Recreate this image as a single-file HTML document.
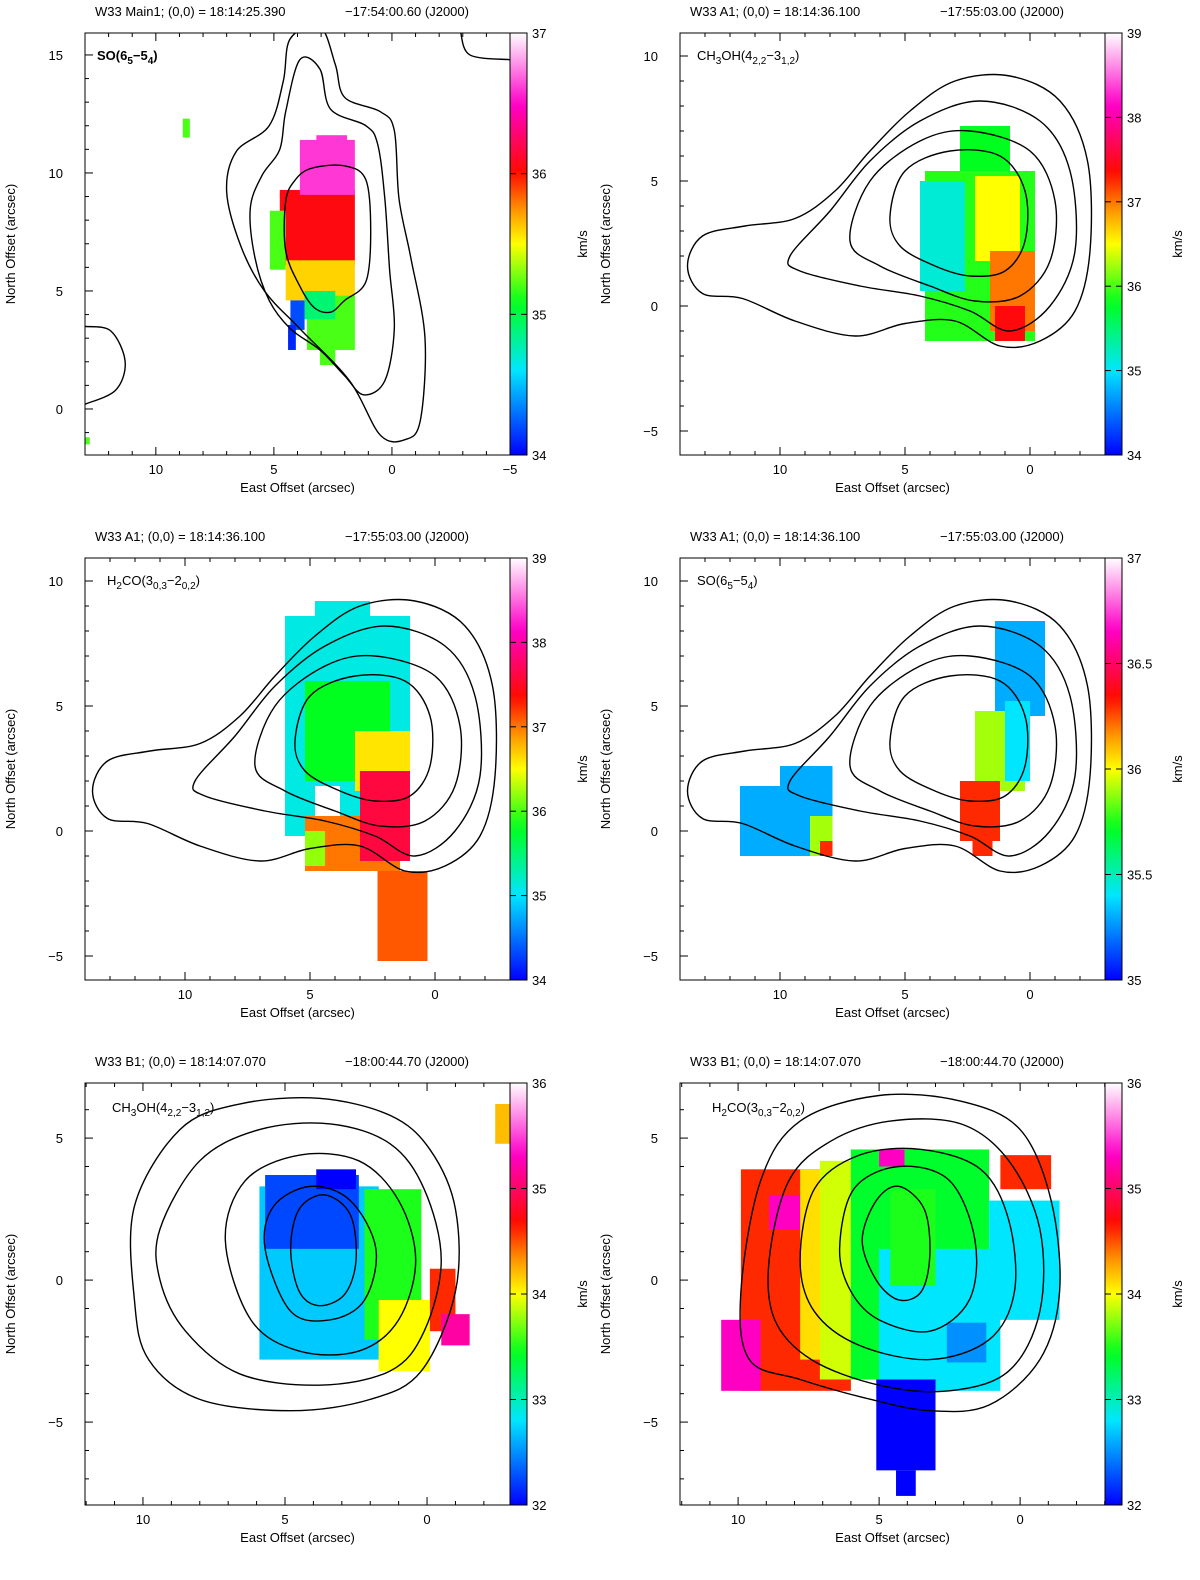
<!DOCTYPE html>
<html><head><meta charset="utf-8"><style>
html,body{margin:0;padding:0;background:#fff}
svg{display:block;font-family:"Liberation Sans",sans-serif}
</style></head><body>
<svg id="fig" width="1200" height="1580" viewBox="0 0 1200 1580" xmlns="http://www.w3.org/2000/svg"></svg>
<script>
// ---------- data (arcsec East offset, arcsec North offset, velocity km/s) ----------
const contoursMain1 = [
 [[4.3,15.7],[3.05,16.2],[2.4,14.6],[2.0,13.2],[0.5,12.6],[-0.1,11.8],[-0.3,8.9],[-0.8,6.4],[-1.4,3.0],[-1.2,-0.5],[-0.55,-1.3],[0.5,-1.1],[1.8,1.2],[3.9,3.4],[5.4,5.0],[6.4,6.9],[7.0,9.2],[6.6,10.9],[5.2,12.0],[4.6,13.9]],
 [[3.9,14.8],[3.05,14.4],[2.6,12.7],[1.1,12.0],[0.6,11.2],[0.3,8.9],[0.1,5.9],[-0.1,3.4],[0.3,1.2],[1.2,0.6],[2.0,1.4],[3.05,2.5],[4.3,3.4],[5.2,4.6],[5.8,6.4],[6.0,8.5],[5.5,9.9],[4.75,11.0],[4.5,12.6]],
 [[3.4,10.2],[2.0,10.3],[1.1,9.7],[0.9,7.5],[1.1,5.4],[2.0,4.6],[2.6,4.1],[3.3,4.3],[3.9,5.2],[4.5,6.7],[4.5,8.8],[4.1,9.7]]
];
const openMain1 = [[[13.0,3.5],[11.9,3.3],[11.3,2.0],[11.7,0.8],[13.0,0.2]],[[-2.9,16.0],[-3.3,15.0],[-5.0,14.8]]];
const contoursA1 = [
 [[13.7,1.6],[13.1,2.8],[11.4,3.2],[9.4,3.5],[7.8,4.6],[6.4,6.2],[4.8,7.8],[3.0,9.0],[0.8,9.2],[-1.2,8.2],[-2.3,5.8],[-2.4,2.2],[-1.8,-0.2],[-0.4,-1.4],[1.2,-1.6],[3.0,-0.6],[5.0,-0.7],[7.0,-1.2],[9.4,-0.6],[11.5,0.3],[13.1,0.5]],
 [[9.6,2.0],[8.0,3.8],[6.4,5.8],[4.4,7.4],[2.0,8.2],[-0.4,7.4],[-1.6,5.4],[-1.8,2.2],[-0.8,0.0],[0.8,-1.0],[2.4,-0.2],[4.4,0.4],[6.8,0.8],[9.2,1.4]],
 [[7.2,2.6],[6.4,5.0],[4.4,6.6],[2.4,7.0],[0,6.2],[-1.0,4.2],[-0.8,1.8],[0.4,0.4],[2.2,0.2],[4.0,0.8],[6.0,1.6]],
 [[5.6,3.6],[5.0,5.4],[3.2,6.2],[1.2,6.0],[0.2,4.6],[0.2,2.6],[1.0,1.4],[2.4,1.2],[3.8,1.6],[5.2,2.4]]
];
const contoursB1ch3oh = [
 [[10.3,2.6],[8.7,5.3],[6.6,6.2],[3.8,6.4],[1.3,5.8],[-0.1,4.6],[-1.0,2.5],[-1.0,-0.4],[0.2,-3.2],[2.0,-4.2],[4.8,-4.6],[8.0,-4.2],[9.8,-2.8],[10.3,-0.7]],
 [[9.4,1.8],[8.0,4.2],[5.9,5.3],[3.4,5.5],[1.3,4.8],[0.1,3.2],[-0.5,0.7],[0.1,-1.8],[1.3,-3.2],[3.8,-3.7],[6.6,-3.3],[8.5,-1.8],[9.4,0]],
 [[7.1,1.4],[6.4,3.5],[4.5,4.4],[2.4,4.2],[1.0,2.8],[0.4,0.7],[1.0,-1.4],[2.4,-2.5],[4.5,-2.5],[6.2,-1.4]],
 [[5.7,1.1],[5.4,2.6],[4.1,3.3],[2.7,2.8],[1.8,1.1],[2.2,-0.7],[3.4,-1.4],[4.8,-1.1]],
 [[4.8,1.1],[4.5,2.5],[3.6,3.0],[2.7,2.3],[2.5,0.7],[2.9,-0.5],[3.8,-0.9],[4.5,-0.4]]
];
const contoursB1h2co = [
 [[9.9,-0.4],[9.2,3.5],[7.8,5.6],[5.0,6.5],[2.1,6.3],[0,5.3],[-1.1,2.8],[-1.4,-0.4],[-0.7,-2.8],[1.1,-4.4],[3.2,-4.6],[5.3,-4.2],[7.8,-3.5],[9.6,-2.8]],
 [[8.9,0.7],[8.2,3.5],[6.7,4.9],[4.6,5.6],[2.1,5.5],[0.4,4.2],[-0.7,1.8],[-0.7,-1.1],[0.4,-3.2],[2.5,-3.9],[5.0,-3.7],[7.4,-2.8],[8.7,-1.4]],
 [[7.8,0.7],[7.3,3.2],[5.7,4.4],[3.5,4.6],[1.4,3.9],[0.4,2.1],[0.2,-0.4],[1.1,-2.1],[3.2,-2.8],[5.7,-2.3],[7.3,-1.1]],
 [[6.4,1.1],[5.9,3.2],[4.3,4.0],[2.5,3.5],[1.6,1.4],[1.8,-0.7],[3.2,-1.8],[5.0,-1.4],[6.0,-0.4]],
 [[5.6,1.4],[5.1,2.8],[4.3,3.3],[3.4,2.5],[3.2,0.9],[3.5,-0.4],[4.3,-0.7],[5.1,0]]
];
// velocity patches: [east_left, east_right, north_bottom, north_top, velocity]
const velMain1 = [
 [4.75,1.57,6.1,9.28,36.05],[3.9,1.57,9.07,11.4,36.6],[3.2,1.9,11.0,11.6,36.6],
 [5.17,4.5,5.9,8.4,35.2],[4.5,1.57,4.6,6.3,35.6],[3.6,1.57,2.5,4.8,35.2],
 [3.7,2.4,3.8,5.0,34.9],[4.3,3.7,3.35,4.6,34.2],[4.4,4.07,2.5,3.56,34.1],
 [3.05,2.4,1.86,2.9,35.2],[8.86,8.56,11.5,12.3,35.2],[13.0,12.8,-1.5,-1.2,35.2]
];
const velA1ch3oh = [
 [2.8,0.8,5.4,7.2,35.8],[4.2,-0.2,-1.4,5.4,35.9],[4.4,2.6,0.6,5.0,35.15],
 [2.2,0.4,1.8,5.2,36.5],[1.6,-0.2,-1.0,2.2,37.0],[1.4,0.2,-1.4,0.0,37.4]
];
const velA1h2co = [
 [6.0,1.0,-0.2,8.6,35.1],[4.8,2.6,8.6,9.2,35.1],[5.2,1.8,2.0,6.0,35.8],
 [3.2,1.0,1.6,4.0,36.6],[5.2,1.4,-1.6,0.6,37.0],[3.0,1.0,-1.2,2.4,37.6],
 [4.8,3.8,0.6,1.8,null],[2.3,0.3,-5.2,-1.6,37.1],[5.2,4.4,-1.4,0.0,36.2]
];
const velA1so = [
 [1.4,-0.6,4.6,8.4,35.3],[2.2,0.2,1.6,4.8,35.9],[1.0,0.0,2.0,5.2,35.4],
 [2.8,1.2,-0.4,2.0,36.3],[2.3,1.5,-1.0,-0.4,36.3],[11.6,7.9,-1.0,1.8,35.3],
 [10.0,7.9,1.6,2.6,35.3],[8.8,7.9,-1.0,0.6,35.9],[8.4,7.9,-1.0,-0.4,36.3]
];
const velB1ch3oh = [
 [5.9,1.7,-2.8,3.3,32.7],[5.7,2.4,1.1,3.7,32.25],[3.9,2.5,3.2,3.9,32.0],
 [2.2,0.2,-2.1,3.2,33.5],[1.7,-0.1,-3.2,-0.7,34.0],[-0.1,-1.0,-1.8,0.4,34.6],
 [-0.5,-1.5,-2.3,-1.2,35.2],[-2.4,-2.9,4.8,6.2,34.2]
];
const velB1h2co = [
 [9.9,6.0,-3.9,3.9,34.6],[10.6,9.2,-3.9,-1.4,35.3],[8.9,7.8,1.8,3.0,35.3],
 [7.8,6.0,-2.8,3.9,34.1],[7.1,5.3,-3.5,4.2,33.9],[6.0,1.1,-3.5,4.6,33.4],
 [5.0,0.7,-3.9,1.1,32.8],[1.1,-1.4,-1.4,2.8,32.8],[0.7,-1.1,3.2,4.4,34.6],
 [5.1,3.0,-6.7,-3.5,32.0],[4.4,3.7,-7.6,-6.7,32.0],[5.0,4.1,4.0,4.6,35.3],
 [4.6,3.0,-0.2,3.2,33.5],[2.6,1.2,-2.9,-1.5,32.5]
];
// tick labels
const xTicks1 = [10,5,0,-5], yTicks1 = [0,5,10,15], cbTicks1 = [34,35,36,37];
const xTicksA = [10,5,0], yTicksA = [-5,0,5,10], cbTicksA = [34,35,36,37,38,39];
const cbTicksSO = [35,35.5,36,36.5,37];
const xTicksB = [10,5,0], yTicksB = [-5,0,5], cbTicksB = [32,33,34,35,36];

// ---------- rendering ----------
const NS = "http://www.w3.org/2000/svg";
const svg = document.getElementById('fig');
function mk(tag, attrs, parent){const e=document.createElementNS(NS,tag);for(const k in attrs)e.setAttribute(k,attrs[k]);(parent||svg).appendChild(e);return e;}
const stops=[[0,[0,0,255]],[0.2,[0,230,255]],[0.36,[0,255,30]],[0.5,[255,255,0]],[0.58,[255,150,0]],[0.67,[255,10,0]],[0.83,[255,0,200]],[1,[255,255,255]]];
function cmap(f){f=Math.max(0,Math.min(1,f));for(let i=1;i<stops.length;i++){if(f<=stops[i][0]){const a=stops[i-1],b=stops[i];const t=(f-a[0])/(b[0]-a[0]);const c=a[1].map((v,j)=>Math.round(v+(b[1][j]-v)*t));return `rgb(${c})`;}}return 'rgb(255,255,255)';}
function smooth(pts,closed){const n=pts.length;let d=`M${pts[0][0]},${pts[0][1]}`;const g=i=>closed?pts[(i+n)%n]:pts[Math.max(0,Math.min(n-1,i))];const m=closed?n:n-1;for(let i=0;i<m;i++){const p0=g(i-1),p1=g(i),p2=g(i+1),p3=g(i+2);d+=` C${p1[0]+(p2[0]-p0[0])/6},${p1[1]+(p2[1]-p0[1])/6} ${p2[0]-(p3[0]-p1[0])/6},${p2[1]-(p3[1]-p1[1])/6} ${p2[0]},${p2[1]}`;}return d+(closed?'Z':'');}
let pid=0;
function panel(c){
 pid++;
 const g=mk('g',{});
 
 
 const X=v=>c.x0+(c.xl-v)/(c.xl-c.xr)*(c.x1-c.x0);
 const Y=v=>c.y1-(v-c.yb)/(c.yt-c.yb)*(c.y1-c.y0);
 const cp=mk('clipPath',{id:'cp'+pid},g);mk('rect',{x:c.x0,y:c.y0,width:c.x1-c.x0,height:c.y1-c.y0},cp);
 const map=mk('g',{'clip-path':`url(#cp${pid})`},g);
 
 c.vel.forEach(p=>{const r=mk('rect',{x:X(p[0]),y:Y(p[3]),width:X(p[1])-X(p[0]),height:Y(p[2])-Y(p[3]),fill:p[4]===null?'#fff':cmap((p[4]-c.cmin)/(c.cmax-c.cmin))},map);
  });
 c.cont.forEach(ct=>{const p=mk('path',{d:smooth(ct.map(q=>[X(q[0]),Y(q[1])]),true),fill:'none',stroke:'#000','stroke-width':1.4},map);
  });
 (c.open||[]).forEach(ct=>{const p=mk('path',{d:smooth(ct.map(q=>[X(q[0]),Y(q[1])]),false),fill:'none',stroke:'#000','stroke-width':1.4},map);
  });
 mk('rect',{x:c.x0,y:c.y0,width:c.x1-c.x0,height:c.y1-c.y0,fill:'none',stroke:'#000','stroke-width':1},g);
 for(let v=Math.ceil(Math.min(c.xl,c.xr));v<=Math.max(c.xl,c.xr);v++){const x=X(v);const L=(v%5===0)?8:4;
  mk('line',{x1:x,y1:c.y1,x2:x,y2:c.y1-L,stroke:'#000'},g);mk('line',{x1:x,y1:c.y0,x2:x,y2:c.y0+L,stroke:'#000'},g);}
 for(let v=Math.ceil(c.yb);v<=c.yt;v++){const y=Y(v);const L=(v%5===0)?8:4;
  mk('line',{x1:c.x0,y1:y,x2:c.x0+L,y2:y,stroke:'#000'},g);}
 c.xt.forEach(v=>{const t=mk('text',{x:X(v),y:c.y1+19,'font-size':13,'text-anchor':'middle'},g);t.textContent=v<0?'−'+(-v):v;});
 c.yt2.forEach(v=>{const t=mk('text',{x:c.x0-22,y:Y(v)+5,'font-size':13,'text-anchor':'end'},g);t.textContent=v<0?'−'+(-v):v;});
 let t=mk('text',{x:(c.x0+c.x1)/2,y:c.y1+37,'font-size':13,'text-anchor':'middle'},g);t.textContent='East Offset (arcsec)';
 
 t=mk('text',{x:c.x0-70,y:(c.y0+c.y1)/2,'font-size':13,'text-anchor':'middle',transform:`rotate(-90 ${c.x0-70} ${(c.y0+c.y1)/2})`},g);t.textContent='North Offset (arcsec)';
 
 t=mk('text',{x:c.x0+10,y:c.y0-17,'font-size':13},g);t.textContent=c.title1;
 t=mk('text',{x:c.x0+260,y:c.y0-17,'font-size':13},g);t.textContent=c.title2;
 t=mk('text',{x:c.lx,y:c.ly,'font-size':13,'font-weight':c.bold?'bold':'normal'},g);
 
 c.label.forEach(s=>{const ts=mk('tspan',{},t);ts.textContent=s[0];if(s[1]){ts.setAttribute('dy',s[1]);}ts.setAttribute('font-size',s[1]>0?10:13);});
 const gid='gr'+pid;const lg=mk('linearGradient',{id:gid,x1:0,y1:1,x2:0,y2:0},g);
 for(let i=0;i<=40;i++)mk('stop',{offset:i/40,'stop-color':cmap(i/40)},lg);
 const cb=mk('rect',{x:c.x1,y:c.y0,width:17,height:c.y1-c.y0,fill:`url(#${gid})`,stroke:'#000','stroke-width':1},g);
 
 const CY=v=>c.y1-(v-c.cmin)/(c.cmax-c.cmin)*(c.y1-c.y0);
 c.cbt.forEach(v=>{mk('line',{x1:c.x1+17,y1:CY(v),x2:c.x1+11,y2:CY(v),stroke:'#000'},g);mk('line',{x1:c.x1,y1:CY(v),x2:c.x1+6,y2:CY(v),stroke:'#000'},g);
  const tt=mk('text',{x:c.x1+22,y:CY(v)+5,'font-size':13},g);tt.textContent=v;});
 t=mk('text',{x:c.x1+77,y:(c.y0+c.y1)/2,'font-size':13,'text-anchor':'middle',transform:`rotate(-90 ${c.x1+77} ${(c.y0+c.y1)/2})`},g);t.textContent='km/s';
 
}
const tMain=['W33 Main1; (0,0) = 18:14:25.390','−17:54:00.60 (J2000)'];
const tA=['W33 A1; (0,0) = 18:14:36.100','−17:55:03.00 (J2000)'];
const tB=['W33 B1; (0,0) = 18:14:07.070','−18:00:44.70 (J2000)'];
const lSO=[['SO(6'],['5',4],['−5',-4],['4',4],[')',-4]];
const lCH=[['CH'],['3',4],['OH(4',-4],['2,2',4],['−3',-4],['1,2',4],[')',-4]];
const lH2=[['H'],['2',4],['CO(3',-4],['0,3',4],['−2',-4],['0,2',4],[')',-4]];
panel({name:'main1-so',x0:85,x1:510,y0:33,y1:455,xl:13,xr:-5,yb:-1.95,yt:15.93,vel:velMain1,cont:contoursMain1,open:openMain1,xt:xTicks1,yt2:yTicks1,cmin:34,cmax:37,cbt:cbTicks1,title1:tMain[0],title2:tMain[1],label:lSO,bold:true,lx:97,ly:60});
panel({name:'a1-ch3oh',x0:680,x1:1105,y0:33,y1:455,xl:14,xr:-3,yb:-5.96,yt:10.92,vel:velA1ch3oh,cont:contoursA1,xt:xTicksA,yt2:yTicksA,cmin:34,cmax:39,cbt:cbTicksA,title1:tA[0],title2:tA[1],label:lCH,lx:697,ly:60});
panel({name:'a1-h2co',x0:85,x1:510,y0:558,y1:980,xl:14,xr:-3,yb:-5.96,yt:10.92,vel:velA1h2co,cont:contoursA1,xt:xTicksA,yt2:yTicksA,cmin:34,cmax:39,cbt:cbTicksA,title1:tA[0],title2:tA[1],label:lH2,lx:107,ly:585});
panel({name:'a1-so',x0:680,x1:1105,y0:558,y1:980,xl:14,xr:-3,yb:-5.96,yt:10.92,vel:velA1so,cont:contoursA1,xt:xTicksA,yt2:yTicksA,cmin:35,cmax:37,cbt:cbTicksSO,title1:tA[0],title2:tA[1],label:lSO,lx:697,ly:585});
panel({name:'b1-ch3oh',x0:85,x1:510,y0:1083,y1:1505,xl:12.04,xr:-2.92,yb:-7.92,yt:6.94,vel:velB1ch3oh,cont:contoursB1ch3oh,xt:xTicksB,yt2:yTicksB,cmin:32,cmax:36,cbt:cbTicksB,title1:tB[0],title2:tB[1],label:lCH,lx:112,ly:1112});
panel({name:'b1-h2co',x0:680,x1:1105,y0:1083,y1:1505,xl:12.06,xr:-3.01,yb:-7.92,yt:6.94,vel:velB1h2co,cont:contoursB1h2co,xt:xTicksB,yt2:yTicksB,cmin:32,cmax:36,cbt:cbTicksB,title1:tB[0],title2:tB[1],label:lH2,lx:712,ly:1112});
</script>
</body></html>
